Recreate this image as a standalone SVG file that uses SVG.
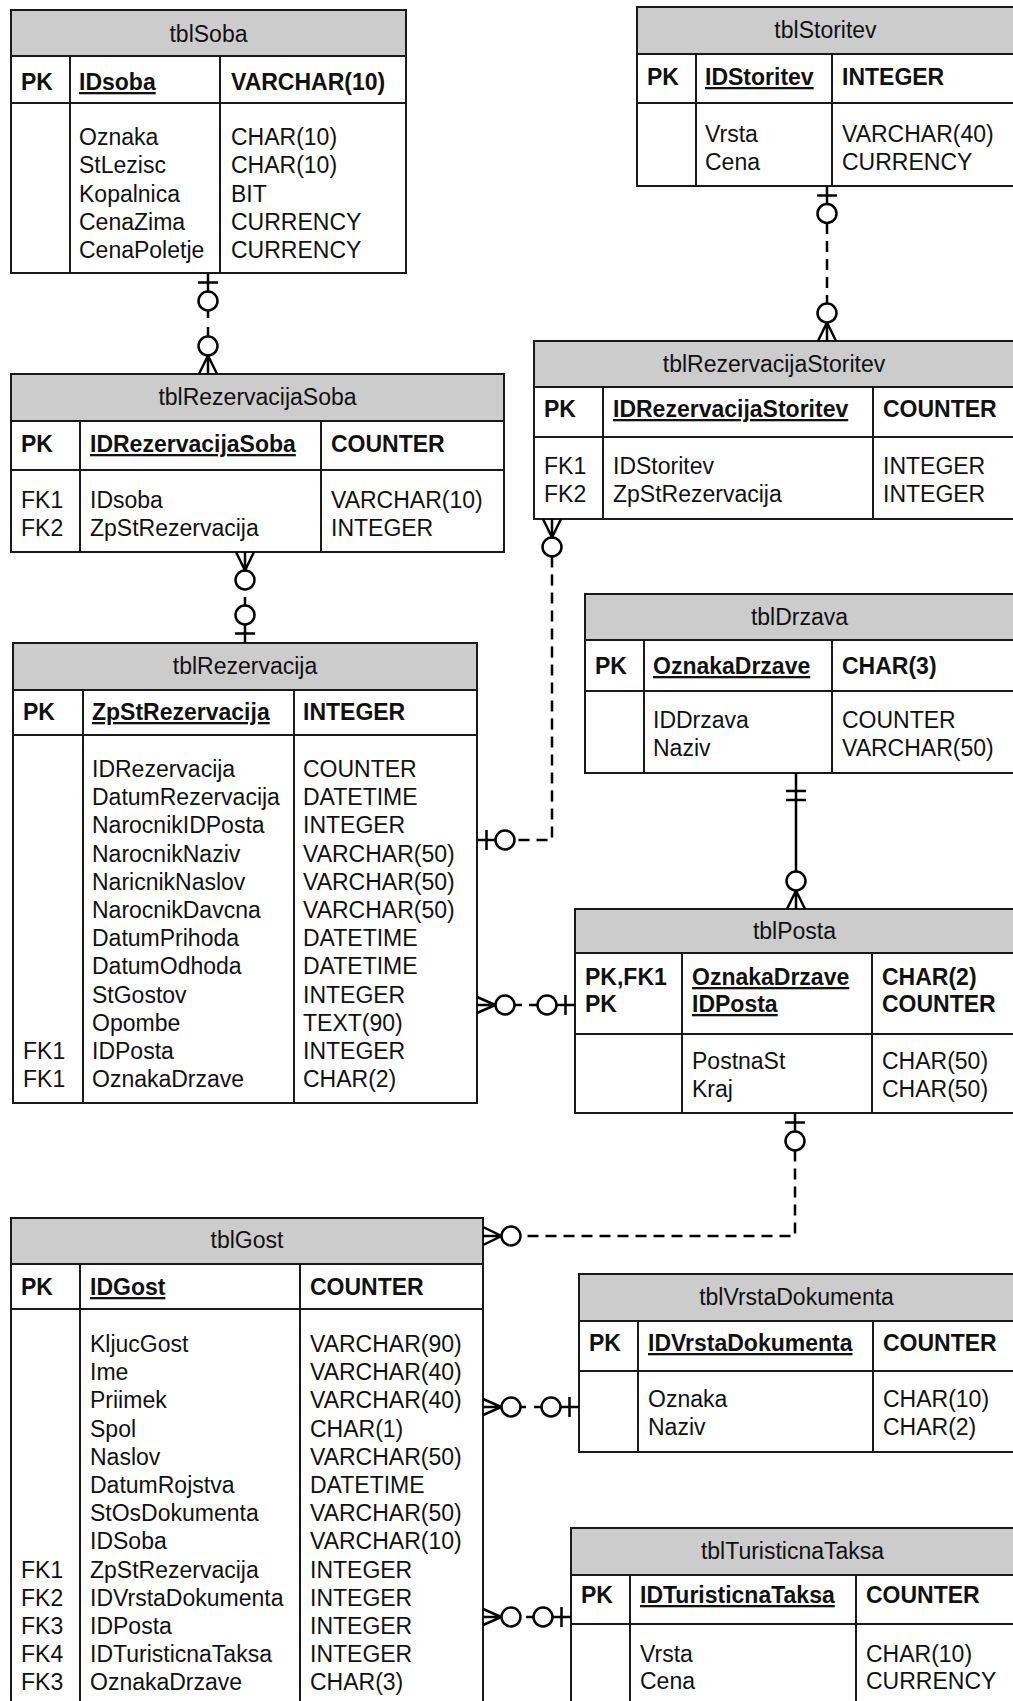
<svg xmlns="http://www.w3.org/2000/svg" width="1013" height="1701" viewBox="0 0 1013 1701">
  <style>
    .box { fill: #ffffff; stroke: #1a1a1a; stroke-width: 2; }
    .hdr { fill: #cccccc; stroke: #1a1a1a; stroke-width: 2; }
    .ln { stroke: #1a1a1a; stroke-width: 2; fill: none; }
    text { font-family: "Liberation Sans", Arial, sans-serif; font-size: 23px; fill: #111111; }
    .t { text-anchor: middle; }
    .b { font-weight: bold; }
    .u { text-decoration: underline; }
    .c { fill: none; stroke: #000000; stroke-width: 2.5; }
    .d { stroke-dasharray: 11 7; }
    .o { fill: #ffffff; stroke: #000000; stroke-width: 2.5; }
  </style>
  <rect width="1013" height="1701" fill="#ffffff"/>

  <!-- tables -->
  <g id="tblSoba">
    <rect class="box" x="11" y="10" width="395" height="263"/>
    <rect class="hdr" x="11" y="10" width="395" height="46"/>
    <path class="ln" d="M11 103H406M70 56V273M220 56V273"/>
    <text class="t" x="208.5" y="42">tblSoba</text>
    <text class="b" x="21" y="90">PK</text>
    <text class="b u" x="79" y="90">IDsoba</text>
    <text class="b" x="231" y="90">VARCHAR(10)</text>
    <text x="79" y="145"><tspan x="79">Oznaka</tspan><tspan x="79" dy="28.3">StLezisc</tspan><tspan x="79" dy="28.3">Kopalnica</tspan><tspan x="79" dy="28.3">CenaZima</tspan><tspan x="79" dy="28.3">CenaPoletje</tspan></text>
    <text x="231" y="145"><tspan x="231">CHAR(10)</tspan><tspan x="231" dy="28.3">CHAR(10)</tspan><tspan x="231" dy="28.3">BIT</tspan><tspan x="231" dy="28.3">CURRENCY</tspan><tspan x="231" dy="28.3">CURRENCY</tspan></text>
  </g>

  <g id="tblStoritev">
    <rect class="box" x="637" y="7" width="377" height="179"/>
    <rect class="hdr" x="637" y="7" width="377" height="47"/>
    <path class="ln" d="M637 103H1014M696 54V186M832 54V186"/>
    <text class="t" x="825.5" y="38">tblStoritev</text>
    <text class="b" x="647" y="85">PK</text>
    <text class="b u" x="705" y="85">IDStoritev</text>
    <text class="b" x="842" y="85">INTEGER</text>
    <text x="705" y="142"><tspan x="705">Vrsta</tspan><tspan x="705" dy="28.3">Cena</tspan></text>
    <text x="842" y="142"><tspan x="842">VARCHAR(40)</tspan><tspan x="842" dy="28.3">CURRENCY</tspan></text>
  </g>

  <g id="tblRezervacijaSoba">
    <rect class="box" x="11" y="374" width="493" height="178"/>
    <rect class="hdr" x="11" y="374" width="493" height="47"/>
    <path class="ln" d="M11 470H504M80 421V552M321 421V552"/>
    <text class="t" x="257.5" y="405">tblRezervacijaSoba</text>
    <text class="b" x="21" y="452">PK</text>
    <text class="b u" x="90" y="452">IDRezervacijaSoba</text>
    <text class="b" x="331" y="452">COUNTER</text>
    <text x="21" y="508"><tspan x="21">FK1</tspan><tspan x="21" dy="28">FK2</tspan></text>
    <text x="90" y="508"><tspan x="90">IDsoba</tspan><tspan x="90" dy="28">ZpStRezervacija</tspan></text>
    <text x="331" y="508"><tspan x="331">VARCHAR(10)</tspan><tspan x="331" dy="28">INTEGER</tspan></text>
  </g>

  <g id="tblRezervacijaStoritev">
    <rect class="box" x="534" y="341" width="480" height="178"/>
    <rect class="hdr" x="534" y="341" width="480" height="46"/>
    <path class="ln" d="M534 437H1014M603 387V519M873 387V519"/>
    <text class="t" x="774" y="372">tblRezervacijaStoritev</text>
    <text class="b" x="544" y="417">PK</text>
    <text class="b u" x="613" y="417">IDRezervacijaStoritev</text>
    <text class="b" x="883" y="417">COUNTER</text>
    <text x="544" y="474"><tspan x="544">FK1</tspan><tspan x="544" dy="28">FK2</tspan></text>
    <text x="613" y="474"><tspan x="613">IDStoritev</tspan><tspan x="613" dy="28">ZpStRezervacija</tspan></text>
    <text x="883" y="474"><tspan x="883">INTEGER</tspan><tspan x="883" dy="28">INTEGER</tspan></text>
  </g>

  <g id="tblRezervacija">
    <rect class="box" x="13" y="643" width="464" height="460"/>
    <rect class="hdr" x="13" y="643" width="464" height="47"/>
    <path class="ln" d="M13 735H477M83 690V1103M294 690V1103"/>
    <text class="t" x="245" y="674">tblRezervacija</text>
    <text class="b" x="23" y="720">PK</text>
    <text class="b u" x="92" y="720">ZpStRezervacija</text>
    <text class="b" x="303" y="720">INTEGER</text>
    <text x="23" y="1059"><tspan x="23">FK1</tspan><tspan x="23" dy="28.2">FK1</tspan></text>
    <text x="92" y="777"><tspan x="92">IDRezervacija</tspan><tspan x="92" dy="28.2">DatumRezervacija</tspan><tspan x="92" dy="28.2">NarocnikIDPosta</tspan><tspan x="92" dy="28.2">NarocnikNaziv</tspan><tspan x="92" dy="28.2">NaricnikNaslov</tspan><tspan x="92" dy="28.2">NarocnikDavcna</tspan><tspan x="92" dy="28.2">DatumPrihoda</tspan><tspan x="92" dy="28.2">DatumOdhoda</tspan><tspan x="92" dy="28.2">StGostov</tspan><tspan x="92" dy="28.2">Opombe</tspan><tspan x="92" dy="28.2">IDPosta</tspan><tspan x="92" dy="28.2">OznakaDrzave</tspan></text>
    <text x="303" y="777"><tspan x="303">COUNTER</tspan><tspan x="303" dy="28.2">DATETIME</tspan><tspan x="303" dy="28.2">INTEGER</tspan><tspan x="303" dy="28.2">VARCHAR(50)</tspan><tspan x="303" dy="28.2">VARCHAR(50)</tspan><tspan x="303" dy="28.2">VARCHAR(50)</tspan><tspan x="303" dy="28.2">DATETIME</tspan><tspan x="303" dy="28.2">DATETIME</tspan><tspan x="303" dy="28.2">INTEGER</tspan><tspan x="303" dy="28.2">TEXT(90)</tspan><tspan x="303" dy="28.2">INTEGER</tspan><tspan x="303" dy="28.2">CHAR(2)</tspan></text>
  </g>

  <g id="tblDrzava">
    <rect class="box" x="585" y="594" width="429" height="179"/>
    <rect class="hdr" x="585" y="594" width="429" height="46"/>
    <path class="ln" d="M585 691H1014M644 640V773M832 640V773"/>
    <text class="t" x="799.5" y="625">tblDrzava</text>
    <text class="b" x="595" y="674">PK</text>
    <text class="b u" x="653" y="674">OznakaDrzave</text>
    <text class="b" x="842" y="674">CHAR(3)</text>
    <text x="653" y="728"><tspan x="653">IDDrzava</tspan><tspan x="653" dy="28">Naziv</tspan></text>
    <text x="842" y="728"><tspan x="842">COUNTER</tspan><tspan x="842" dy="28">VARCHAR(50)</tspan></text>
  </g>

  <g id="tblPosta">
    <rect class="box" x="575" y="909" width="439" height="204"/>
    <rect class="hdr" x="575" y="909" width="439" height="44"/>
    <path class="ln" d="M575 1034H1014M682 953V1113M872 953V1113"/>
    <text class="t" x="794.5" y="939">tblPosta</text>
    <text class="b" x="585" y="985"><tspan x="585">PK,FK1</tspan><tspan x="585" dy="27">PK</tspan></text>
    <text class="b u" x="692" y="985"><tspan x="692">OznakaDrzave</tspan><tspan x="692" dy="27">IDPosta</tspan></text>
    <text class="b" x="882" y="985"><tspan x="882">CHAR(2)</tspan><tspan x="882" dy="27">COUNTER</tspan></text>
    <text x="692" y="1069"><tspan x="692">PostnaSt</tspan><tspan x="692" dy="28">Kraj</tspan></text>
    <text x="882" y="1069"><tspan x="882">CHAR(50)</tspan><tspan x="882" dy="28">CHAR(50)</tspan></text>
  </g>

  <g id="tblGost">
    <rect class="box" x="11" y="1218" width="472" height="494"/>
    <rect class="hdr" x="11" y="1218" width="472" height="46"/>
    <path class="ln" d="M11 1309H483M80 1264V1712M300 1264V1712"/>
    <text class="t" x="247" y="1248">tblGost</text>
    <text class="b" x="21" y="1295">PK</text>
    <text class="b u" x="90" y="1295">IDGost</text>
    <text class="b" x="310" y="1295">COUNTER</text>
    <text x="21" y="1577.6"><tspan x="21">FK1</tspan><tspan x="21" dy="28.2">FK2</tspan><tspan x="21" dy="28.2">FK3</tspan><tspan x="21" dy="28.2">FK4</tspan><tspan x="21" dy="28.2">FK3</tspan></text>
    <text x="90" y="1352"><tspan x="90">KljucGost</tspan><tspan x="90" dy="28.2">Ime</tspan><tspan x="90" dy="28.2">Priimek</tspan><tspan x="90" dy="28.2">Spol</tspan><tspan x="90" dy="28.2">Naslov</tspan><tspan x="90" dy="28.2">DatumRojstva</tspan><tspan x="90" dy="28.2">StOsDokumenta</tspan><tspan x="90" dy="28.2">IDSoba</tspan><tspan x="90" dy="28.2">ZpStRezervacija</tspan><tspan x="90" dy="28.2">IDVrstaDokumenta</tspan><tspan x="90" dy="28.2">IDPosta</tspan><tspan x="90" dy="28.2">IDTuristicnaTaksa</tspan><tspan x="90" dy="28.2">OznakaDrzave</tspan></text>
    <text x="310" y="1352"><tspan x="310">VARCHAR(90)</tspan><tspan x="310" dy="28.2">VARCHAR(40)</tspan><tspan x="310" dy="28.2">VARCHAR(40)</tspan><tspan x="310" dy="28.2">CHAR(1)</tspan><tspan x="310" dy="28.2">VARCHAR(50)</tspan><tspan x="310" dy="28.2">DATETIME</tspan><tspan x="310" dy="28.2">VARCHAR(50)</tspan><tspan x="310" dy="28.2">VARCHAR(10)</tspan><tspan x="310" dy="28.2">INTEGER</tspan><tspan x="310" dy="28.2">INTEGER</tspan><tspan x="310" dy="28.2">INTEGER</tspan><tspan x="310" dy="28.2">INTEGER</tspan><tspan x="310" dy="28.2">CHAR(3)</tspan></text>
  </g>

  <g id="tblVrstaDokumenta">
    <rect class="box" x="579" y="1274" width="435" height="178"/>
    <rect class="hdr" x="579" y="1274" width="435" height="47"/>
    <path class="ln" d="M579 1371H1014M638 1321V1452M873 1321V1452"/>
    <text class="t" x="796.5" y="1305">tblVrstaDokumenta</text>
    <text class="b" x="589" y="1351">PK</text>
    <text class="b u" x="648" y="1351">IDVrstaDokumenta</text>
    <text class="b" x="883" y="1351">COUNTER</text>
    <text x="648" y="1407"><tspan x="648">Oznaka</tspan><tspan x="648" dy="28">Naziv</tspan></text>
    <text x="883" y="1407"><tspan x="883">CHAR(10)</tspan><tspan x="883" dy="28">CHAR(2)</tspan></text>
  </g>

  <g id="tblTuristicnaTaksa">
    <rect class="box" x="571" y="1528" width="443" height="184"/>
    <rect class="hdr" x="571" y="1528" width="443" height="47"/>
    <path class="ln" d="M571 1624H1014M630 1575V1712M856 1575V1712"/>
    <text class="t" x="792.5" y="1559">tblTuristicnaTaksa</text>
    <text class="b" x="581" y="1603">PK</text>
    <text class="b u" x="640" y="1603">IDTuristicnaTaksa</text>
    <text class="b" x="866" y="1603">COUNTER</text>
    <text x="640" y="1662"><tspan x="640">Vrsta</tspan><tspan x="640" dy="27">Cena</tspan></text>
    <text x="866" y="1662"><tspan x="866">CHAR(10)</tspan><tspan x="866" dy="27">CURRENCY</tspan></text>
  </g>

  <!-- relationships -->
  <g id="connectors">
    <!-- tblSoba 1 : N tblRezervacijaSoba -->
    <path class="c" d="M208 273V291.5M198 282.5H218M208 310.5V318M208 327V336.5M199 374L208 355.5L217 374M208 374V355.5"/>
    <circle class="o" cx="208" cy="301" r="9.5"/>
    <circle class="o" cx="208" cy="346" r="9.5"/>

    <!-- tblStoritev 1 : N tblRezervacijaStoritev -->
    <path class="c" d="M827 186V204M817 195.5H837M818 341L827 322.5L836 341M827 341V322.5"/>
    <path class="c d" d="M827 223V303.5"/>
    <circle class="o" cx="827" cy="213.5" r="9.5"/>
    <circle class="o" cx="827" cy="313" r="9.5"/>

    <!-- tblRezervacijaSoba N : 1 tblRezervacija -->
    <path class="c" d="M236 552L245 570.5L254 552M245 552V570.5M245 597V605.5M245 624.5V643M235 633.5H255"/>
    <circle class="o" cx="245" cy="580" r="9.5"/>
    <circle class="o" cx="245" cy="615" r="9.5"/>

    <!-- tblRezervacijaStoritev N : 1 tblRezervacija -->
    <path class="c" d="M543 519L552 537.5L561 519M552 519V537.5M477 840H495.5M486.5 830V850"/>
    <path class="c d" d="M552 556.5V840H514.5"/>
    <circle class="o" cx="552" cy="547" r="9.5"/>
    <circle class="o" cx="505" cy="840" r="9.5"/>

    <!-- tblDrzava 1 : N tblPosta -->
    <path class="c" d="M796 773V871M786 791H806M786 800H806M787 909L796 890.5L805 909M796 909V890.5"/>
    <circle class="o" cx="796" cy="881" r="9.5"/>

    <!-- tblRezervacija N : 1 tblPosta -->
    <path class="c" d="M477 997L495.5 1005L477 1013M477 1005H495.5M514.5 1005H522M529 1005H537.5M556.5 1005H575M565.5 995V1015"/>
    <circle class="o" cx="505" cy="1005" r="9.5"/>
    <circle class="o" cx="547" cy="1005" r="9.5"/>

    <!-- tblPosta 1 : N tblGost -->
    <path class="c" d="M795 1113V1131.5M785 1122.5H805M483 1227L501.5 1236L483 1245M483 1236H501.5"/>
    <path class="c d" d="M795 1150.5V1236H520.5"/>
    <circle class="o" cx="795" cy="1141" r="9.5"/>
    <circle class="o" cx="511" cy="1236" r="9.5"/>

    <!-- tblGost N : 1 tblVrstaDokumenta -->
    <path class="c" d="M483 1399L501.5 1407L483 1415M483 1407H501.5M520.5 1407H526M534 1407H541.5M560.5 1407H579M569.5 1397V1417"/>
    <circle class="o" cx="511" cy="1407" r="9.5"/>
    <circle class="o" cx="551" cy="1407" r="9.5"/>

    <!-- tblGost N : 1 tblTuristicnaTaksa -->
    <path class="c" d="M483 1609L501.5 1617L483 1625M483 1617H501.5M526 1617H533.5M552.5 1617H571M561.5 1607V1627"/>
    <circle class="o" cx="511" cy="1617" r="9.5"/>
    <circle class="o" cx="543" cy="1617" r="9.5"/>
  </g>
</svg>
